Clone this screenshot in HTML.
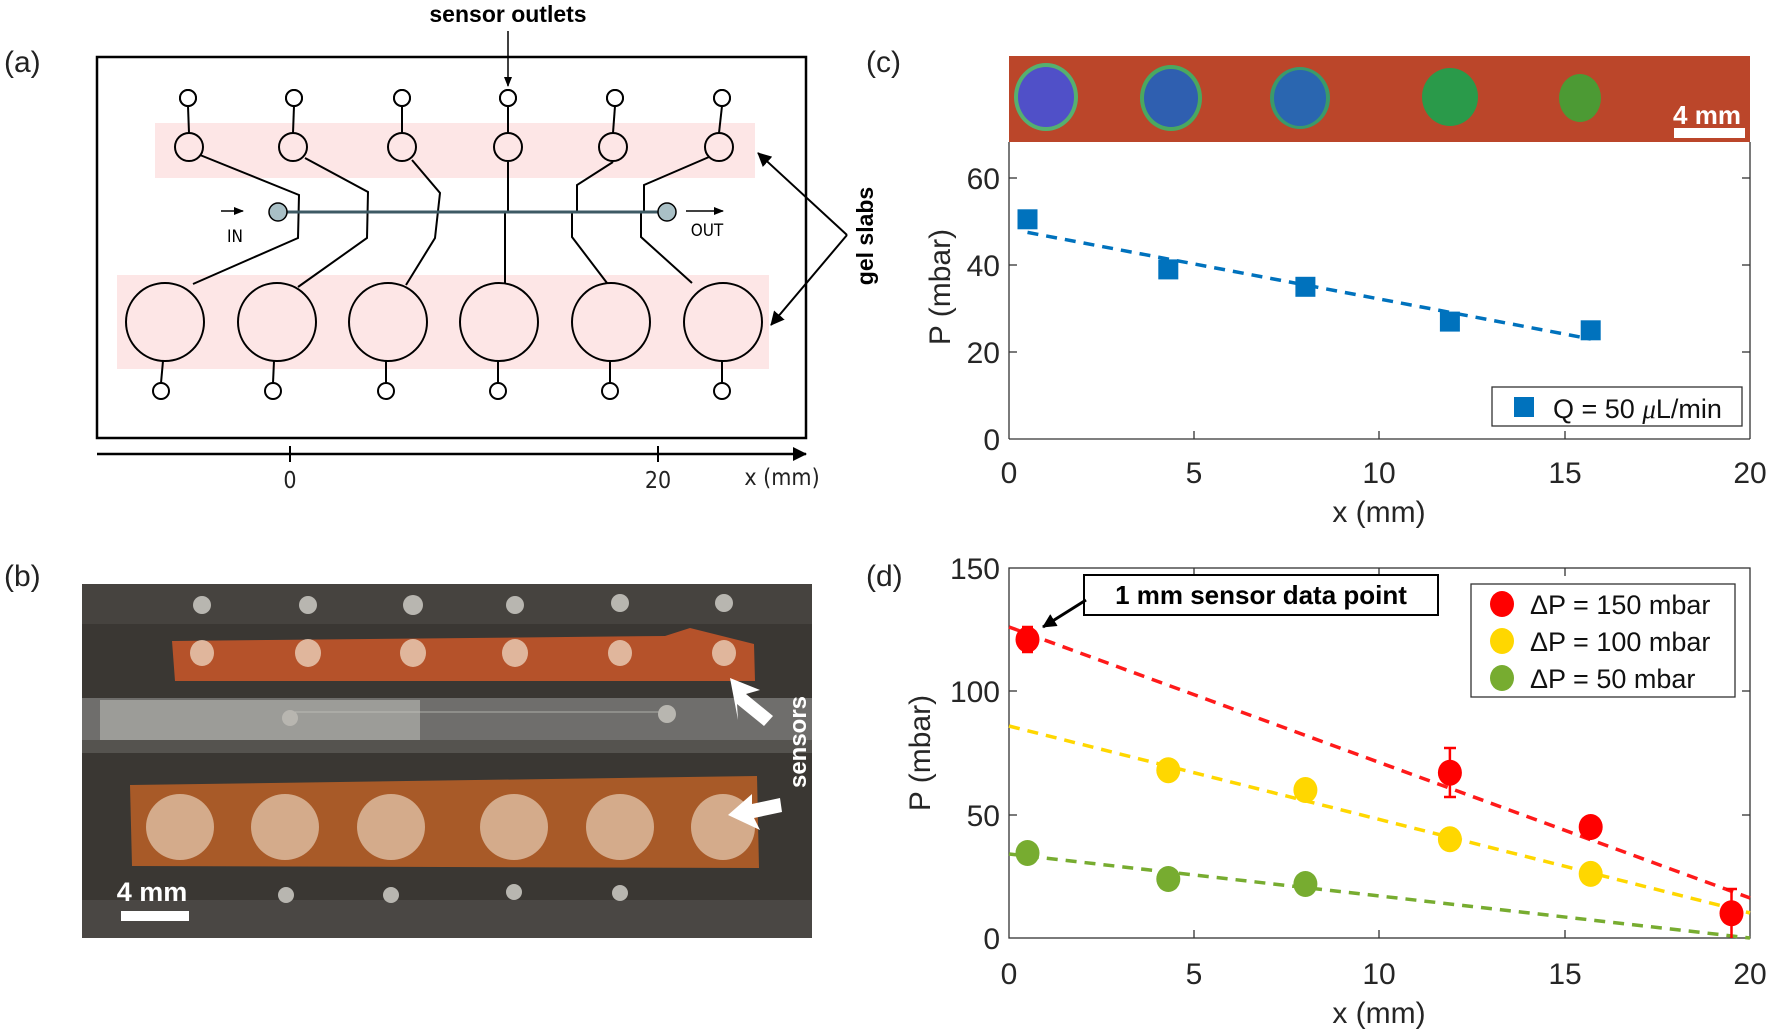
<!DOCTYPE html>
<html><head><meta charset="utf-8"><style>
html,body{margin:0;padding:0;background:#fff;}
svg{display:block;font-family:"Liberation Sans",Arial,sans-serif;}
</style></head><body>
<svg width="1770" height="1031" viewBox="0 0 1770 1031" xmlns="http://www.w3.org/2000/svg">
<defs>
<marker id="ah" markerWidth="10" markerHeight="10" refX="9" refY="5" orient="auto" markerUnits="userSpaceOnUse"><path d="M0,1 L10,5 L0,9 Z" fill="#000"/></marker>
<marker id="ah2" markerWidth="14" markerHeight="14" refX="13" refY="7" orient="auto" markerUnits="userSpaceOnUse"><path d="M0,0 L14,7 L0,14 Z" fill="#000"/></marker>
</defs>

<!-- panel labels -->
<g font-size="30" fill="#222">
<text x="4" y="72">(a)</text>
<text x="4" y="586">(b)</text>
<text x="866" y="72">(c)</text>
<text x="866" y="586">(d)</text>
</g>

<!-- ===== Panel (a) ===== -->
<rect x="97" y="57" width="709" height="381" fill="none" stroke="#000" stroke-width="2.5"/>
<rect x="155" y="123" width="600" height="55" fill="#fde6e6"/>
<rect x="117" y="275" width="652" height="94" fill="#fde6e6"/>
<g stroke="#000" stroke-width="2" fill="none">
<!-- connectors -->
<polyline points="200,155 299,195 298,238 193,284"/>
<polyline points="305,158 368,192 367,238 298,287"/>
<polyline points="412,160 440,193 435,238 406,285"/>
<polyline points="508,162 508,212"/>
<polyline points="505,212 505,283"/>
<polyline points="613,162 577,185 577,212"/>
<polyline points="572,212 572,237 607,283"/>
<polyline points="709,157 644,185 644,212"/>
<polyline points="641,212 641,237 692,283"/>
<!-- top outlet stems -->
<line x1="188" y1="106" x2="189" y2="133"/><line x1="294" y1="106" x2="293" y2="133"/>
<line x1="402" y1="106" x2="402" y2="133"/><line x1="508" y1="106" x2="508" y2="133"/>
<line x1="615" y1="106" x2="613" y2="133"/><line x1="722" y1="106" x2="719" y2="133"/>
<!-- bottom stems -->
<line x1="163" y1="361" x2="161" y2="383"/><line x1="274" y1="361" x2="273" y2="383"/>
<line x1="386" y1="361" x2="386" y2="383"/><line x1="498" y1="361" x2="498" y2="383"/>
<line x1="610" y1="361" x2="610" y2="383"/><line x1="722" y1="361" x2="722" y2="383"/>
</g>
<line x1="278" y1="212" x2="667" y2="212" stroke="#3d5a64" stroke-width="3"/>
<circle cx="278" cy="212" r="9" fill="#a9c0c6" stroke="#000" stroke-width="1.5"/>
<circle cx="667" cy="212" r="9" fill="#a9c0c6" stroke="#000" stroke-width="1.5"/>
<g fill="#fde6e6" stroke="#000" stroke-width="2">
<circle cx="188" cy="98" r="8"/><circle cx="294" cy="98" r="8"/><circle cx="402" cy="98" r="8"/>
<circle cx="508" cy="98" r="8"/><circle cx="615" cy="98" r="8"/><circle cx="722" cy="98" r="8"/>
<ellipse cx="189" cy="147" rx="14" ry="14"/><ellipse cx="293" cy="147" rx="14" ry="14"/><ellipse cx="402" cy="147" rx="14" ry="14"/>
<ellipse cx="508" cy="147" rx="14" ry="14"/><ellipse cx="613" cy="147" rx="14" ry="14"/><ellipse cx="719" cy="147" rx="14" ry="14"/>
<ellipse cx="165" cy="322" rx="39" ry="39"/><ellipse cx="277" cy="322" rx="39" ry="39"/><ellipse cx="388" cy="322" rx="39" ry="39"/>
<ellipse cx="499" cy="322" rx="39" ry="39"/><ellipse cx="611" cy="322" rx="39" ry="39"/><ellipse cx="723" cy="322" rx="39" ry="39"/>
</g>
<g fill="#fff" stroke="#000" stroke-width="2">
<circle cx="161" cy="391" r="8"/><circle cx="273" cy="391" r="8"/><circle cx="386" cy="391" r="8"/>
<circle cx="498" cy="391" r="8"/><circle cx="610" cy="391" r="8"/><circle cx="722" cy="391" r="8"/>
</g>
<g fill="#fff" stroke="#000" stroke-width="2">
<circle cx="188" cy="98" r="8"/><circle cx="294" cy="98" r="8"/><circle cx="402" cy="98" r="8"/>
<circle cx="508" cy="98" r="8"/><circle cx="615" cy="98" r="8"/><circle cx="722" cy="98" r="8"/>
</g>
<!-- IN / OUT -->
<line x1="221" y1="211" x2="243" y2="211" stroke="#000" stroke-width="1.5" marker-end="url(#ah)"/>
<line x1="686" y1="211" x2="723" y2="211" stroke="#000" stroke-width="1.5" marker-end="url(#ah)"/>
<text x="235" y="242" font-family="DejaVu Sans Condensed, DejaVu Sans, sans-serif" font-size="17" text-anchor="middle">IN</text>
<text x="707" y="236" font-family="DejaVu Sans Condensed, DejaVu Sans, sans-serif" font-size="17" text-anchor="middle">OUT</text>
<!-- sensor outlets -->
<text x="508" y="22" font-size="23" font-weight="bold" text-anchor="middle">sensor outlets</text>
<line x1="508" y1="31" x2="508" y2="86" stroke="#000" stroke-width="1.5" marker-end="url(#ah)"/>
<!-- gel slabs -->
<line x1="847" y1="235" x2="758" y2="153" stroke="#000" stroke-width="2" marker-end="url(#ah2)"/>
<line x1="847" y1="235" x2="771" y2="325" stroke="#000" stroke-width="2" marker-end="url(#ah2)"/>
<text transform="translate(873,236) rotate(-90)" font-size="23" font-weight="bold" text-anchor="middle">gel slabs</text>
<!-- axis under -->
<line x1="97" y1="454" x2="806" y2="454" stroke="#000" stroke-width="2.5" marker-end="url(#ah2)"/>
<line x1="290" y1="446" x2="290" y2="462" stroke="#000" stroke-width="2"/>
<line x1="658" y1="446" x2="658" y2="462" stroke="#000" stroke-width="2"/>
<g font-family="DejaVu Sans Condensed, DejaVu Sans, sans-serif" font-size="23" fill="#222">
<text x="290" y="488" text-anchor="middle">0</text>
<text x="658" y="488" text-anchor="middle">20</text>
<text x="782" y="485" text-anchor="middle">x (mm)</text>
</g>

<!-- ===== Panel (b) photo ===== -->
<rect x="82" y="584" width="730" height="354" fill="#3a3733"/>
<rect x="82" y="584" width="730" height="40" fill="#46433f"/>
<rect x="82" y="900" width="730" height="38" fill="#4a4744"/>
<rect x="82" y="698" width="730" height="55" fill="#6f6e6c"/>
<rect x="100" y="700" width="320" height="40" fill="#a8a7a4" opacity="0.8"/>
<rect x="82" y="740" width="730" height="13" fill="#55534f"/>
<path d="M172,641 L665,636 L690,628 L754,644 L755,681 L175,681 Z" fill="#b5522a"/>
<path d="M130,785 L757,776 L759,868 L132,866 Z" fill="#a85a28"/>
<g stroke="#c8c8c0" stroke-width="1" fill="none" opacity="0.7">
<line x1="290" y1="712" x2="660" y2="712"/>
</g>
<g fill="#e8c8b0" opacity="0.85">
<ellipse cx="202" cy="653" rx="12" ry="13"/><ellipse cx="308" cy="653" rx="13" ry="14"/><ellipse cx="413" cy="653" rx="13" ry="14"/>
<ellipse cx="515" cy="653" rx="13" ry="14"/><ellipse cx="620" cy="653" rx="12" ry="13"/><ellipse cx="724" cy="653" rx="12" ry="13"/>
</g>
<g fill="#d9b496" opacity="0.9">
<ellipse cx="180" cy="827" rx="34" ry="33"/><ellipse cx="285" cy="827" rx="34" ry="33"/><ellipse cx="391" cy="827" rx="34" ry="33"/>
<ellipse cx="514" cy="827" rx="34" ry="33"/><ellipse cx="620" cy="827" rx="34" ry="33"/><ellipse cx="723" cy="827" rx="32" ry="33"/>
</g>
<g fill="#b8b6b0">
<circle cx="202" cy="605" r="9"/><circle cx="308" cy="605" r="9"/><circle cx="413" cy="605" r="10"/>
<circle cx="515" cy="605" r="9"/><circle cx="620" cy="603" r="9"/><circle cx="724" cy="603" r="9"/>
<circle cx="286" cy="895" r="8"/><circle cx="391" cy="895" r="8"/><circle cx="514" cy="892" r="8"/><circle cx="620" cy="893" r="8"/>
<circle cx="290" cy="718" r="8"/><circle cx="667" cy="714" r="9"/>
</g>
<g fill="#fff">
<path d="M730,678 L760,690 L746,694 L773,716 L764,726 L737,704 L738,720 Z" />
<path d="M728,815 L752,794 L752,804 L780,798 L782,812 L754,818 L760,830 Z"/>
</g>
<text transform="translate(806,742) rotate(-90)" font-size="24" font-weight="bold" fill="#fff" text-anchor="middle">sensors</text>
<text x="152" y="901" font-size="27" font-weight="bold" fill="#fff" text-anchor="middle">4 mm</text>
<rect x="121" y="911" width="68" height="10" fill="#fff"/>

<!-- ===== Panel (c) ===== -->
<rect x="1009" y="56" width="741" height="86" fill="#c24a2c"/>
<rect x="1009" y="56" width="741" height="86" fill="#a83a22" opacity="0.25"/>
<ellipse cx="1046" cy="97" rx="32" ry="34" fill="#55b070"/>
<ellipse cx="1046" cy="97" rx="28" ry="30" fill="#5050c8"/>
<ellipse cx="1171" cy="98" rx="31" ry="33" fill="#4aa860"/>
<ellipse cx="1171" cy="98" rx="27" ry="29" fill="#2f5fb0"/>
<ellipse cx="1300" cy="98" rx="30" ry="31" fill="#3a9a6a"/>
<ellipse cx="1300" cy="98" rx="26" ry="28" fill="#2a66b0"/>
<ellipse cx="1450" cy="97" rx="28" ry="29" fill="#2a9a4a"/>
<ellipse cx="1580" cy="98" rx="21" ry="24" fill="#4c9a34"/>
<text x="1707" y="124" font-size="26" font-weight="bold" fill="#fff" text-anchor="middle">4 mm</text>
<rect x="1674" y="128" width="71" height="10" fill="#fff"/>

<g stroke="#333" stroke-width="1.3" fill="none">
<line x1="1009" y1="142" x2="1009" y2="439"/>
<line x1="1750" y1="142" x2="1750" y2="439"/>
<line x1="1009" y1="439" x2="1750" y2="439"/>
<line x1="1009" y1="352" x2="1017" y2="352"/><line x1="1009" y1="265" x2="1017" y2="265"/><line x1="1009" y1="178" x2="1017" y2="178"/>
<line x1="1750" y1="352" x2="1742" y2="352"/><line x1="1750" y1="265" x2="1742" y2="265"/><line x1="1750" y1="178" x2="1742" y2="178"/>
<line x1="1194" y1="439" x2="1194" y2="431"/><line x1="1379" y1="439" x2="1379" y2="431"/><line x1="1565" y1="439" x2="1565" y2="431"/>
</g>
<g font-size="30" fill="#262626">
<text x="1000" y="450" text-anchor="end">0</text>
<text x="1000" y="363" text-anchor="end">20</text>
<text x="1000" y="276" text-anchor="end">40</text>
<text x="1000" y="189" text-anchor="end">60</text>
<text x="1009" y="483" text-anchor="middle">0</text>
<text x="1194" y="483" text-anchor="middle">5</text>
<text x="1379" y="483" text-anchor="middle">10</text>
<text x="1565" y="483" text-anchor="middle">15</text>
<text x="1750" y="483" text-anchor="middle">20</text>
<text x="1379" y="522" text-anchor="middle">x (mm)</text>
<text transform="translate(950,287) rotate(-90)" text-anchor="middle">P (mbar)</text>
</g>
<line x1="1027.5" y1="232.4" x2="1590.7" y2="339" stroke="#0072BD" stroke-width="3.5" stroke-dasharray="11,8"/>
<g fill="#0072BD">
<rect x="1017.5" y="209.3" width="20" height="20"/>
<rect x="1158.3" y="259.4" width="20" height="20"/>
<rect x="1295.4" y="276.8" width="20" height="20"/>
<rect x="1439.9" y="311.6" width="20" height="20"/>
<rect x="1580.7" y="320.3" width="20" height="20"/>
</g>
<rect x="1492" y="387" width="250" height="39" fill="#fff" stroke="#333" stroke-width="1.3"/>
<rect x="1514" y="397" width="20" height="20" fill="#0072BD"/>
<text x="1553" y="418" font-size="27" fill="#111">Q = 50 <tspan font-family="Liberation Serif, serif" font-style="italic">μ</tspan>L/min</text>

<!-- ===== Panel (d) ===== -->
<g stroke="#333" stroke-width="1.3" fill="none">
<rect x="1009" y="568" width="741" height="370"/>
<line x1="1009" y1="815" x2="1017" y2="815"/><line x1="1009" y1="691" x2="1017" y2="691"/>
<line x1="1750" y1="815" x2="1742" y2="815"/><line x1="1750" y1="691" x2="1742" y2="691"/>
<line x1="1194" y1="938" x2="1194" y2="930"/><line x1="1379" y1="938" x2="1379" y2="930"/><line x1="1565" y1="938" x2="1565" y2="930"/>
<line x1="1194" y1="568" x2="1194" y2="576"/><line x1="1379" y1="568" x2="1379" y2="576"/><line x1="1565" y1="568" x2="1565" y2="576"/>
</g>
<g font-size="30" fill="#262626">
<text x="1000" y="949" text-anchor="end">0</text>
<text x="1000" y="826" text-anchor="end">50</text>
<text x="1000" y="702" text-anchor="end">100</text>
<text x="1000" y="579" text-anchor="end">150</text>
<text x="1009" y="984" text-anchor="middle">0</text>
<text x="1194" y="984" text-anchor="middle">5</text>
<text x="1379" y="984" text-anchor="middle">10</text>
<text x="1565" y="984" text-anchor="middle">15</text>
<text x="1750" y="984" text-anchor="middle">20</text>
<text x="1379" y="1023" text-anchor="middle">x (mm)</text>
<text transform="translate(930,753) rotate(-90)" text-anchor="middle">P (mbar)</text>
</g>
<g stroke-width="3.5" stroke-dasharray="11,8">
<line x1="1009" y1="627" x2="1750" y2="898" stroke="#FF1a1a"/>
<line x1="1009" y1="726" x2="1750" y2="913" stroke="#FFD700"/>
<line x1="1009" y1="854" x2="1750" y2="938" stroke="#77AC30"/>
</g>
<g stroke="#FF0000" stroke-width="2.5">
<line x1="1027.5" y1="627" x2="1027.5" y2="652"/><line x1="1022" y1="627" x2="1033" y2="627"/><line x1="1022" y1="652" x2="1033" y2="652"/>
<line x1="1449.9" y1="748" x2="1449.9" y2="797"/><line x1="1444" y1="748" x2="1456" y2="748"/><line x1="1444" y1="797" x2="1456" y2="797"/>
<line x1="1590.7" y1="815" x2="1590.7" y2="840"/>
<line x1="1731.5" y1="889" x2="1731.5" y2="938"/><line x1="1726" y1="889" x2="1737" y2="889"/>
</g>
<g fill="#FF0000">
<ellipse cx="1027.5" cy="639.5" rx="12" ry="13"/>
<ellipse cx="1449.9" cy="772.7" rx="12" ry="13"/>
<ellipse cx="1590.7" cy="827" rx="12" ry="13"/>
<ellipse cx="1731.5" cy="913.3" rx="12" ry="13"/>
</g>
<g fill="#FFD700">
<ellipse cx="1168.3" cy="770.2" rx="12" ry="13"/>
<ellipse cx="1305.4" cy="790" rx="12" ry="13"/>
<ellipse cx="1449.9" cy="839.3" rx="12" ry="13"/>
<ellipse cx="1590.7" cy="873.9" rx="12" ry="13"/>
</g>
<g fill="#77AC30">
<ellipse cx="1027.5" cy="853" rx="12" ry="13"/>
<ellipse cx="1168.3" cy="879" rx="12" ry="13"/>
<ellipse cx="1305.4" cy="884" rx="12" ry="13"/>
</g>
<!-- annotation -->
<rect x="1084" y="575" width="354" height="40" fill="#fff" stroke="#000" stroke-width="2"/>
<text x="1261" y="604" font-size="26" font-weight="bold" text-anchor="middle" fill="#000">1 mm sensor data point</text>
<line x1="1086" y1="600" x2="1043" y2="627" stroke="#000" stroke-width="3" marker-end="url(#ah2)"/>
<!-- legend -->
<rect x="1471" y="584" width="264" height="113" fill="#fff" stroke="#333" stroke-width="1.3"/>
<ellipse cx="1502" cy="604" rx="12" ry="13" fill="#FF0000"/>
<ellipse cx="1502" cy="641" rx="12" ry="13" fill="#FFD700"/>
<ellipse cx="1502" cy="678" rx="12" ry="13" fill="#77AC30"/>
<g font-size="27" fill="#111">
<text x="1530" y="614">ΔP = 150 mbar</text>
<text x="1530" y="651">ΔP = 100 mbar</text>
<text x="1530" y="688">ΔP = 50 mbar</text>
</g>
</svg>
</body></html>
